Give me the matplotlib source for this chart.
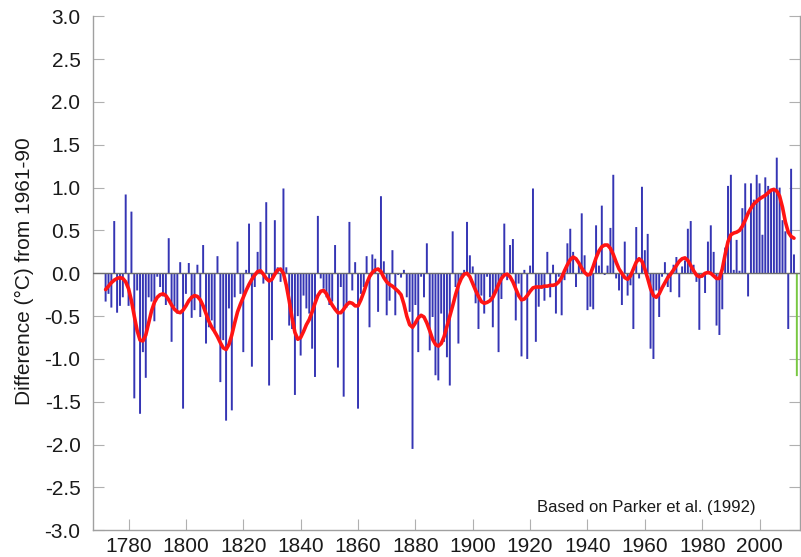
import matplotlib
matplotlib.use('Agg')
import matplotlib.pyplot as plt

# ---- data ----
years = list(range(1772, 2013))
anomaly = [
    -0.33, -0.24, -0.40, 0.61, -0.46, -0.38, -0.28, 0.92,            # 1772-1779
    -0.38, 0.72, -1.46, -0.20, -1.64, -0.92, -1.22, -0.28, -0.33, -0.56,  # 1780-1789
    -0.04, -0.16, -0.27, -0.37, 0.41, -0.80, -0.39, -0.47, 0.13, -1.58,   # 1790-1799
    -0.24, 0.12, -0.52, -0.43, 0.10, -0.51, 0.33, -0.82, -0.63, -0.55,    # 1800-1809
    -0.70, 0.20, -1.27, -0.78, -1.72, -0.41, -1.60, -0.28, 0.37, -0.24,   # 1810-1819
    -0.92, 0.04, 0.58, -1.09, -0.16, 0.25, 0.60, -0.12, 0.83, -1.31,      # 1820-1829
    -0.78, 0.62, 0.07, -0.10, 0.99, 0.07, -0.61, -0.65, -1.42, -0.50,     # 1830-1839
    -0.96, -0.26, -0.41, -0.47, -0.88, -1.21, 0.67, -0.06, -0.18, -0.28,  # 1840-1849
    -0.37, -0.33, 0.33, -1.10, -0.16, -1.44, -0.40, 0.60, -0.20, 0.13,    # 1850-1859
    -1.58, -0.24, -0.16, 0.20, -0.63, 0.22, 0.17, -0.45, 0.90, 0.14,      # 1860-1869
    -0.49, -0.32, 0.27, -0.49, -0.02, -0.05, 0.04, -0.28, -0.45, -2.05,   # 1870-1879
    -0.37, -0.92, -0.04, -0.28, 0.35, -0.90, -0.51, -1.19, -1.25, -0.47,  # 1880-1889
    -0.80, -0.98, -1.31, 0.49, -0.16, -0.82, -0.05, 0.04, 0.60, 0.21,     # 1890-1899
    0.08, -0.35, -0.65, -0.26, -0.47, -0.04, -0.28, -0.63, -0.22, -0.92,  # 1900-1909
    -0.30, 0.58, -0.08, 0.33, 0.40, -0.55, -0.12, -0.97, 0.04, -1.00,     # 1910-1919
    0.09, 0.99, -0.80, -0.39, -0.18, -0.32, 0.25, -0.28, 0.10, -0.47,     # 1920-1929
    -0.04, -0.49, -0.08, 0.35, 0.52, 0.25, -0.16, 0.10, 0.70, 0.21,       # 1930-1939
    -0.43, -0.39, -0.42, 0.56, 0.09, 0.79, -0.02, 0.09, 0.53, 1.15,       # 1940-1949
    -0.06, -0.20, -0.37, 0.37, -0.26, -0.14, -0.65, 0.54, -0.06, 1.01,    # 1950-1959
    0.27, 0.46, -0.88, -1.00, -0.20, -0.51, -0.04, 0.13, -0.16, -0.22,    # 1960-1969
    0.10, 0.19, -0.28, 0.08, 0.15, 0.52, 0.61, 0.10, -0.10, -0.66,        # 1970-1979
    -0.05, -0.23, 0.37, 0.56, 0.25, -0.61, -0.72, -0.42, 0.30, 1.02,      # 1980-1989
    1.15, 0.04, 0.39, 0.03, 0.76, 1.05, -0.27, 1.05, 0.86, 1.15,          # 1990-1999
    1.05, 0.45, 1.12, 1.02, 0.98, 0.97, 1.35, 1.00, 0.62, 0.49,           # 2000-2009
    -0.65, 1.22, 0.22,                                                    # 2010-2012
]
smooth = [
    -0.19, -0.15, -0.11, -0.08, -0.06, -0.05, -0.06, -0.10,
    -0.18, -0.32, -0.50, -0.67, -0.78, -0.79, -0.72, -0.58, -0.44, -0.34,
    -0.28, -0.25, -0.24, -0.26, -0.31, -0.37, -0.42, -0.45, -0.46, -0.43,
    -0.38, -0.32, -0.28, -0.26, -0.27, -0.31, -0.38, -0.47, -0.56, -0.63,
    -0.68, -0.74, -0.81, -0.87, -0.89, -0.83, -0.72, -0.58, -0.45, -0.36,
    -0.28, -0.20, -0.13, -0.07, -0.02, 0.02, 0.03, -0.01, -0.06, -0.09,
    -0.07, -0.01, 0.04, 0.05, 0.00, -0.14, -0.32, -0.52, -0.69, -0.77,
    -0.75, -0.68, -0.60, -0.54, -0.45, -0.35, -0.26, -0.21, -0.20, -0.24,
    -0.31, -0.37, -0.42, -0.46, -0.46, -0.42, -0.37, -0.34, -0.35, -0.38,
    -0.38, -0.31, -0.22, -0.12, -0.04, 0.01, 0.04, 0.05, 0.02, -0.05,
    -0.10, -0.13, -0.15, -0.18, -0.21, -0.25, -0.36, -0.50, -0.60, -0.63,
    -0.58, -0.52, -0.49, -0.51, -0.58, -0.67, -0.77, -0.83, -0.85, -0.82,
    -0.74, -0.62, -0.50, -0.38, -0.25, -0.14, -0.06, -0.01, 0.00, -0.04,
    -0.12, -0.20, -0.27, -0.33, -0.35, -0.34, -0.32, -0.28, -0.21, -0.13,
    -0.06, -0.02, -0.01, -0.04, -0.10, -0.18, -0.26, -0.31, -0.30, -0.26,
    -0.21, -0.17, -0.16, -0.16, -0.16, -0.15, -0.15, -0.14, -0.14, -0.13,
    -0.10, -0.05, 0.03, 0.10, 0.16, 0.19, 0.17, 0.12, 0.06, 0.01,
    -0.02, -0.01, 0.08, 0.18, 0.26, 0.31, 0.33, 0.33, 0.29, 0.22,
    0.13, 0.05, 0.00, -0.05, -0.07, -0.03, 0.05, 0.13, 0.17, 0.14,
    0.05, -0.06, -0.18, -0.26, -0.28, -0.24, -0.17, -0.11, -0.05, -0.01,
    0.04, 0.09, 0.14, 0.17, 0.18, 0.15, 0.09, 0.03, -0.02, -0.04,
    -0.03, 0.00, 0.01, 0.00, -0.03, -0.06, -0.06, 0.05, 0.22, 0.37,
    0.45, 0.47, 0.48, 0.50, 0.55, 0.62, 0.70, 0.76, 0.81, 0.84,
    0.87, 0.89, 0.91, 0.94, 0.97, 0.98, 0.96, 0.90, 0.77, 0.60,
    0.48, 0.43, 0.41,
]
current_year = [2013]
current_anomaly = [-1.20]
xticks = [1780, 1800, 1820, 1840, 1860, 1880, 1900, 1920, 1940, 1960, 1980, 2000]
yticks = [3.0, 2.5, 2.0, 1.5, 1.0, 0.5, 0.0, -0.5, -1.0, -1.5, -2.0, -2.5, -3.0]
ylabel = "Difference (°C) from 1961-90"
credit = "Based on Parker et al. (1992)"

plt.rcParams['font.family'] = ['Liberation Sans', 'DejaVu Sans']
plt.rcParams['axes.unicode_minus'] = False

fig = plt.figure(figsize=(8.01, 5.57), dpi=100)
ax = fig.add_axes([93 / 801, (557 - 530.3) / 557, 707 / 801, 514 / 557])

ax.bar(years, anomaly, width=0.68, color='#3535b4', linewidth=0, zorder=2, snap=False)
ax.bar(current_year, current_anomaly, width=0.68, color='#78c841', linewidth=0,
       zorder=2, snap=False)
ax.axhline(0, color='#6e6e6e', lw=1.0, zorder=3)
ax.plot(years, smooth, color='#ff1414', lw=2.6, solid_capstyle='round',
        solid_joinstyle='round', zorder=4)

ax.set_xlim(1767.6, 2014.1)
ax.set_ylim(-3.0, 3.0)
ax.set_xticks(xticks)
ax.set_xticklabels([str(v) for v in xticks])
ax.set_yticks(yticks)
ax.set_yticklabels([f"{v:.1f}" for v in yticks])

for s in ['left', 'bottom', 'right']:
    ax.spines[s].set_color('#a0a0a0')
    ax.spines[s].set_linewidth(1.0)
ax.spines['top'].set_visible(False)

ax.tick_params(axis='both', direction='in', length=8, width=0.8, color='#b0b0b0',
               labelsize=15, labelcolor='#1a1a1a')
ax.tick_params(axis='y', pad=9, right=True)
ax.tick_params(axis='x', pad=5)

ax.set_ylabel(ylabel, fontsize=15, color='#1a1a1a')
ax.yaxis.set_label_coords(-0.084, 0.505)

ax.text(0.782, 0.045, credit, transform=ax.transAxes, ha='center', va='center',
        fontsize=12, color='#1a1a1a')

fig.savefig('out.png', dpi=100)
